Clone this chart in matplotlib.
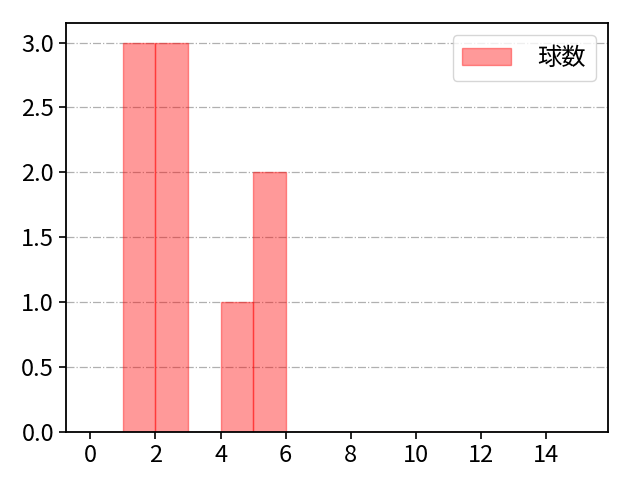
import matplotlib
matplotlib.use("Agg")
import matplotlib.pyplot as plt

plt.rcParams['font.family'] = ['Noto Sans CJK JP', 'DejaVu Sans']

# histogram bins (left edges) and counts
bin_left = [0, 1, 2, 3, 4, 5, 6, 7, 8, 9, 10, 11, 12, 13, 14]
counts = [0, 3, 3, 0, 1, 2, 0, 0, 0, 0, 0, 0, 0, 0, 0]
label = "球数"
yticks = [0, 0.5, 1.0, 1.5, 2.0, 2.5, 3.0]

fig = plt.figure(figsize=(6.4, 4.8), dpi=100)
ax = fig.add_axes([0.103, 0.1, 0.847, 0.852])

ax.bar(bin_left, counts, width=1, align='edge', color='red', alpha=0.4,
       edgecolor='red', linewidth=1, label=label)

ax.set_xlim(-0.75, 15.9)
ax.set_ylim(0, 3.15)
ax.set_xticks(range(0, 15, 2))
ax.set_yticks(yticks)
ax.set_yticklabels([f"{v:.1f}" for v in yticks])
ax.yaxis.grid(True, linestyle='-.', color='#b0b0b0', linewidth=0.9)
ax.set_axisbelow(True)
ax.tick_params(labelsize=17, length=5, width=1.2)
for s in ax.spines.values():
    s.set_linewidth(1.3)
ax.legend(loc='upper right', fontsize=17.5, handletextpad=1.1)

plt.savefig("out.png", dpi=100)
plt.close()
